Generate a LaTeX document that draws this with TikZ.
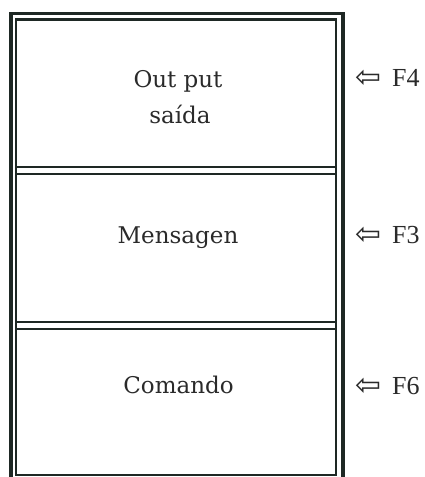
\documentclass[tikz,border=0pt]{standalone}
\usepackage{fontspec}
\setmainfont{Liberation Serif}
\newfontfamily\boxfont{DejaVu Serif}
\newfontfamily\arrfont{DejaVu Sans}
\definecolor{ink}{HTML}{1E2824}
\definecolor{txt}{HTML}{2A2A2A}
\tikzset{
  outerline/.style={draw=ink, line width=3.6pt},
  innerline/.style={draw=ink, line width=2.4pt},
  sepline/.style={draw=ink, line width=2.6pt},
  boxtext/.style={inner sep=0pt, anchor=base, text=txt, font=\boxfont\fontsize{23}{27}\selectfont},
  sidelabel/.style={inner sep=0pt, anchor=base west, text=txt, font=\fontsize{26}{30}\selectfont},
  arrowglyph/.style={inner sep=0pt, anchor=base west, text=txt, font=\arrfont\fontsize{31}{34}\selectfont}
}
\begin{document}
\begin{tikzpicture}[x=1pt,y=-1pt]
\useasboundingbox (0,0) rectangle (425,477);
% outer frame (bottom cropped)
\draw[outerline] (11,482) -- (11,13.5) -- (343,13.5) -- (343,482);
% inner frame
\draw[innerline] (16,19.5) rectangle (336,475);
% separators
\coordinate (s1l) at (16,167); \coordinate (s1r) at (336,167);
\coordinate (s2l) at (16,174);   \coordinate (s2r) at (336,174);
\coordinate (s3l) at (16,322); \coordinate (s3r) at (336,322);
\coordinate (s4l) at (16,329);   \coordinate (s4r) at (336,329);
\draw[sepline] (s1l) -- (s1r);
\draw[sepline] (s2l) -- (s2r);
\draw[sepline] (s3l) -- (s3r);
\draw[sepline] (s4l) -- (s4r);
% texts
\node[boxtext] (out) at (178,87) {Out put};
\node[boxtext] (sai) at (180,123) {saída};
\node[boxtext] (men) at (178,243) {Mensagen};
\node[boxtext] (com) at (178.5,393) {Comando};
% side labels
\node[arrowglyph] (a4) at (355,87) {⇦};
\node[sidelabel] (f4) at (392,86) {F4};
\node[arrowglyph] (a3) at (355,244) {⇦};
\node[sidelabel] (f3) at (392,243) {F3};
\node[arrowglyph] (a6) at (355,395) {⇦};
\node[sidelabel] (f6) at (392,394) {F6};
\end{tikzpicture}
\end{document}
